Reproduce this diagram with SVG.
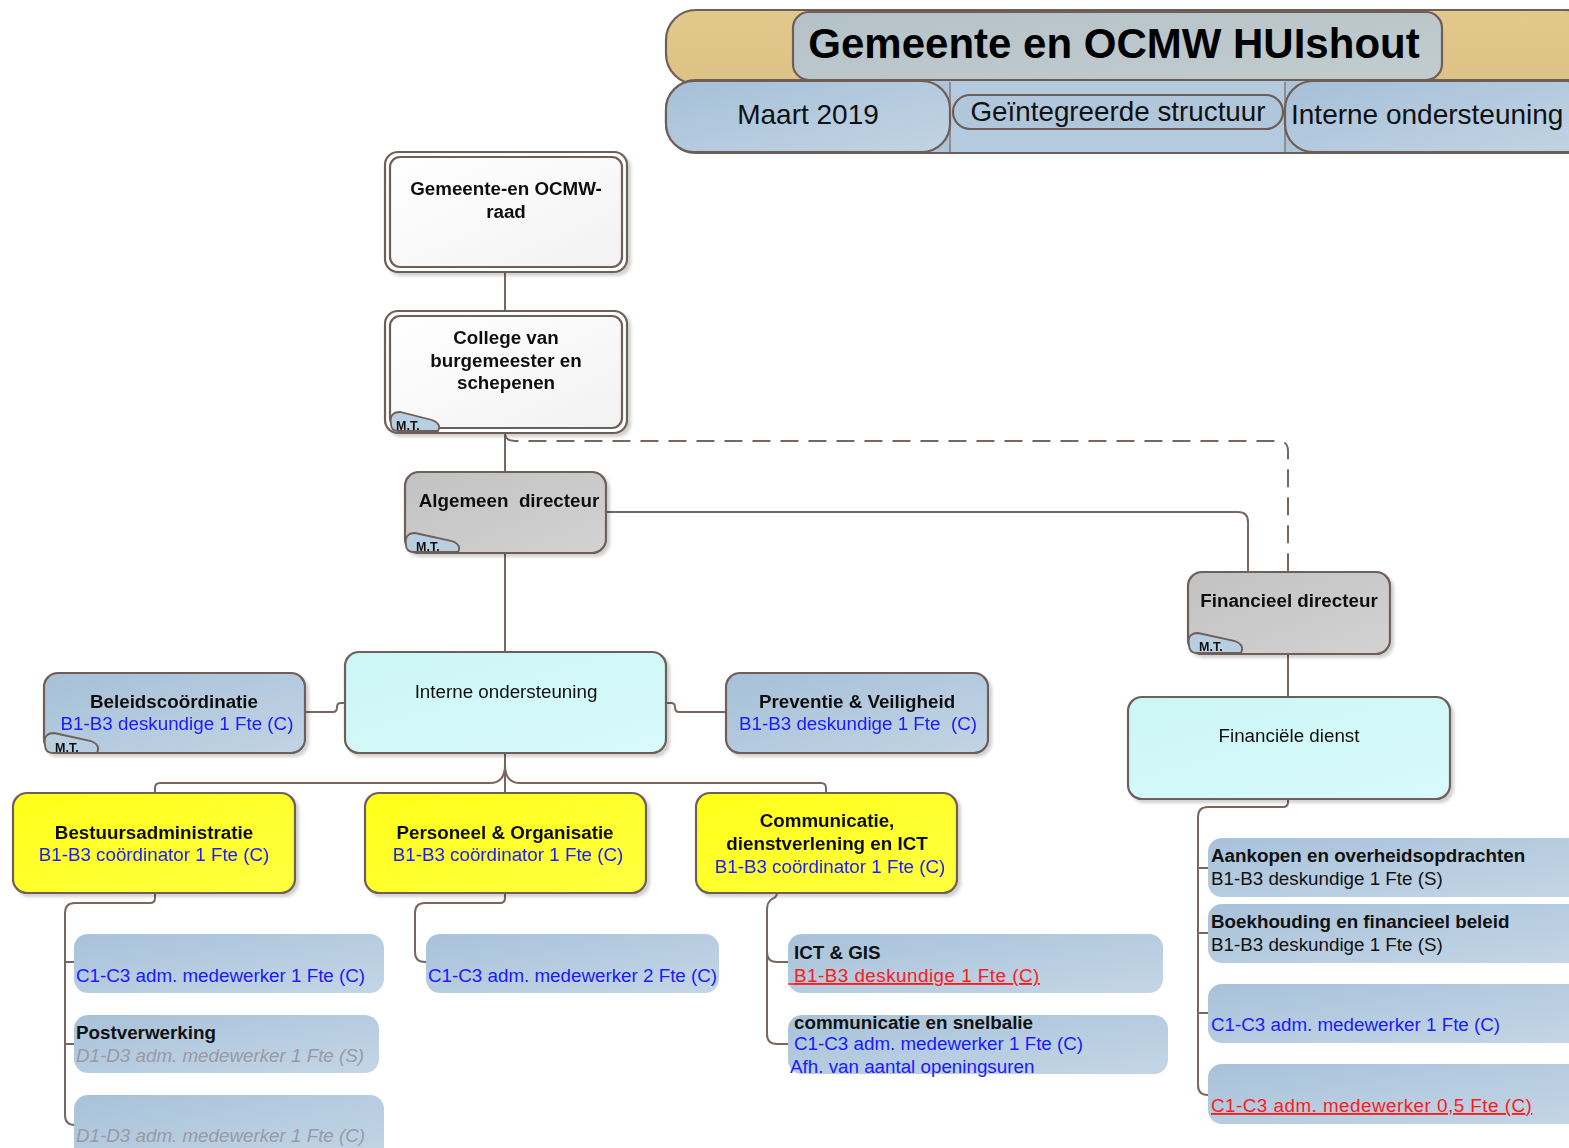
<svg xmlns="http://www.w3.org/2000/svg" width="1569" height="1148" viewBox="0 0 1569 1148">
<defs>
<filter id="sh" x="-10%" y="-10%" width="125%" height="130%">
<feDropShadow dx="3" dy="3" stdDeviation="1.5" flood-color="#000" flood-opacity="0.18"/>
</filter>
<linearGradient id="gBlue" x1="0" y1="0" x2="1" y2="1">
<stop offset="0" stop-color="#a6c0d8"/><stop offset="1" stop-color="#c2d4e4"/>
</linearGradient>
<linearGradient id="gSub" x1="0" y1="0" x2="1" y2="1">
<stop offset="0" stop-color="#a8c2da"/><stop offset="1" stop-color="#c4d6e6"/>
</linearGradient>
<linearGradient id="gCyan" x1="0" y1="0" x2="1" y2="1">
<stop offset="0" stop-color="#ccf6f6"/><stop offset="1" stop-color="#d8fafa"/>
</linearGradient>
<linearGradient id="gGray" x1="0" y1="0" x2="1" y2="1">
<stop offset="0" stop-color="#c2c2c2"/><stop offset="1" stop-color="#d2d2d2"/>
</linearGradient>
<linearGradient id="gYel" x1="0" y1="0" x2="1" y2="1">
<stop offset="0" stop-color="#ffff1a"/><stop offset="1" stop-color="#ffff40"/>
</linearGradient>
<linearGradient id="gWhite" x1="0" y1="0" x2="1" y2="1">
<stop offset="0" stop-color="#ffffff"/><stop offset="1" stop-color="#f2f2f2"/>
</linearGradient>
<linearGradient id="gTitle" x1="0" y1="0" x2="1" y2="1">
<stop offset="0" stop-color="#b4c2c8"/><stop offset="1" stop-color="#c2ccce"/>
</linearGradient>
<linearGradient id="gTan" x1="0" y1="0" x2="0" y2="1">
<stop offset="0" stop-color="#e2c88a"/><stop offset="1" stop-color="#dcc284"/>
</linearGradient>
</defs>
<style>
.box{stroke:#6e5e58;stroke-width:2.2}
.sub{fill:url(#gSub)}
.con{fill:none;stroke:#7a6660;stroke-width:2}
.dash{fill:none;stroke:#7a6660;stroke-width:2;stroke-dasharray:18 10}
text{font-family:"Liberation Sans",Arial,sans-serif;font-size:18.8px}
.b{font-weight:bold;fill:#111}
.r{fill:#111}
.bl{fill:#1a1aff}
.rd{fill:#ff1a1a;text-decoration:underline;letter-spacing:0.5px}
.gr{fill:#9a9aa4;font-style:italic}
.c{text-anchor:middle}
.mt{fill:#b8cfe2;stroke:#6e5e58;stroke-width:1.8}
.mtt{font-size:12.5px;font-weight:bold;fill:#111}
</style>

<g id="header">
<rect x="666" y="10" width="930" height="74" rx="30" fill="url(#gTan)" class="box"/>
<rect x="666" y="80" width="930" height="73" rx="30" fill="#adc3d8" class="box"/>
<rect x="950" y="81" width="335" height="71" fill="#b4cade"/>
<line x1="950" y1="82" x2="950" y2="152" stroke="#8a7a74" stroke-width="1.5"/>
<line x1="1285" y1="82" x2="1285" y2="152" stroke="#8a7a74" stroke-width="1.5"/>
<rect x="666" y="81" width="284" height="71" rx="28" fill="url(#gBlue)" class="box"/>
<rect x="1285" y="81" width="310" height="71" rx="28" fill="url(#gBlue)" class="box"/>
<rect x="793" y="12" width="649" height="68" rx="16" fill="url(#gTitle)" class="box"/>
<rect x="953" y="95" width="330" height="34" rx="17" fill="#b0c6da" class="box"/>
<text x="1114" y="58" class="c" style="font-size:42px;font-weight:bold;fill:#000">Gemeente en OCMW HUIshout</text>
<text x="808" y="124" class="c" style="font-size:28px;fill:#111">Maart 2019</text>
<text x="1118" y="121" class="c" style="font-size:27.8px;fill:#111">Geïntegreerde structuur</text>
<text x="1291" y="124" style="font-size:28px;fill:#111">Interne ondersteuning</text>
</g>

<g id="connectors">
<path class="con" d="M505,272 V311"/>
<path class="con" d="M505,433 V472"/>
<path class="dash" d="M505,433 Q505,441 515,441 H1278 Q1288,441 1288,451 V572"/>
<path class="con" d="M606,512 H1238 Q1248,512 1248,522 V572"/>
<path class="con" d="M505,553 V652"/>
<path class="con" d="M1288,654 V697"/>
<path class="con" d="M306,712 H333 Q337,712 337,707 Q337,703 341,703 H345"/>
<path class="con" d="M666,703 H671 Q675,703 675,707 Q675,712 679,712 H726"/>
<path class="con" d="M505,753 V793"/>
<path class="con" d="M505,765 Q505,783 490,783 H160 Q155,783 155,788 V793"/>
<path class="con" d="M505,765 Q505,783 520,783 H821 Q826,783 826,788 V793"/>
<path class="con" d="M155,893 V898 Q155,903 150,903 H75 Q65,903 65,913 V1115 Q65,1125 75,1125 H80"/>
<path class="con" d="M65,962 H74 M65,1044 H74"/>
<path class="con" d="M505,893 V898 Q505,903 500,903 H425 Q415,903 415,913 V952 Q415,962 425,962 H426"/>
<path class="con" d="M777,893 Q777,897 772,899 Q767,902 767,910 V1034 Q767,1044 777,1044 H788"/>
<path class="con" d="M767,952 Q767,962 777,962 H788"/>
<path class="con" d="M1288,799 V802 Q1288,807 1283,807 H1208 Q1198,807 1198,817 V1085 Q1198,1095 1208,1095 H1210"/>
<path class="con" d="M1198,868 H1208 M1198,933 H1208 M1198,1013 H1208"/>
</g>

<g id="n-raad" filter="url(#sh)">
<rect x="385" y="152" width="242" height="120" rx="13" fill="#fff" class="box"/>
<rect x="390" y="157" width="232" height="110" rx="10" fill="url(#gWhite)" class="box"/>
<text x="506" y="195" class="b c">Gemeente-en OCMW-</text>
<text x="506" y="218" class="b c">raad</text>
</g>

<g id="n-college" filter="url(#sh)">
<rect x="385" y="311" width="242" height="122" rx="13" fill="#fff" class="box"/>
<rect x="390" y="316" width="232" height="112" rx="10" fill="url(#gWhite)" class="box"/>
<text x="506" y="344" class="b c">College van</text>
<text x="506" y="367" class="b c">burgemeester en</text>
<text x="506" y="389" class="b c">schepenen</text>
<path class="mt" d="M391,424 Q389,412 400,412 L432,420 Q442,424 438,431 L398,431 Q391,431 391,424 Z"/>
<text x="396" y="430" class="mtt">M.T.</text>
</g>

<g id="n-algemeen" filter="url(#sh)">
<rect x="405" y="472" width="201" height="81" rx="14" fill="url(#gGray)" class="box"/>
<path class="mt" d="M406,545 Q404,533 415,533 L452,541 Q462,545 458,552 L414,552 Q406,552 406,545 Z"/>
<text x="416" y="551" class="mtt">M.T.</text>
<text x="509" y="507" class="b c" xml:space="preserve">Algemeen  directeur</text>
</g>

<g id="n-financieel-dir" filter="url(#sh)">
<rect x="1188" y="572" width="202" height="82" rx="14" fill="url(#gGray)" class="box"/>
<path class="mt" d="M1189,645 Q1187,633 1198,633 L1235,641 Q1245,645 1241,653 L1197,653 Q1189,653 1189,645 Z"/>
<text x="1199" y="651" class="mtt">M.T.</text>
<text x="1289" y="607" class="b c">Financieel directeur</text>
</g>

<g id="n-fin-dienst" filter="url(#sh)">
<rect x="1128" y="697" width="322" height="102" rx="14" fill="url(#gCyan)" class="box"/>
<text x="1289" y="742" class="r c">Financiële dienst</text>
</g>

<g id="n-interne" filter="url(#sh)">
<rect x="345" y="652" width="321" height="101" rx="14" fill="url(#gCyan)" class="box"/>
<text x="506" y="698" class="r c">Interne ondersteuning</text>
</g>

<g id="n-beleid" filter="url(#sh)">
<rect x="44" y="673" width="261" height="80" rx="14" fill="url(#gBlue)" class="box"/>
<text x="174" y="708" class="b c">Beleidscoördinatie</text>
<text x="177" y="730" class="bl c">B1-B3 deskundige 1 Fte (C)</text>
<path class="mt" d="M45,745 Q43,733 54,733 L91,741 Q101,745 97,753 L53,753 Q45,753 45,745 Z"/>
<text x="55" y="752" class="mtt">M.T.</text>
</g>

<g id="n-preventie" filter="url(#sh)">
<rect x="726" y="673" width="262" height="80" rx="14" fill="url(#gBlue)" class="box"/>
<text x="857" y="708" class="b c">Preventie &amp; Veiligheid</text>
<text x="858" y="730" class="bl c" xml:space="preserve">B1-B3 deskundige 1 Fte  (C)</text>
</g>

<g id="n-bestuur" filter="url(#sh)">
<rect x="13" y="793" width="282" height="100" rx="14" fill="url(#gYel)" class="box"/>
<text x="154" y="839" class="b c">Bestuursadministratie</text>
<text x="154" y="861" class="bl c">B1-B3 coördinator 1 Fte (C)</text>
</g>

<g id="n-personeel" filter="url(#sh)">
<rect x="365" y="793" width="281" height="100" rx="14" fill="url(#gYel)" class="box"/>
<text x="505" y="839" class="b c">Personeel &amp; Organisatie</text>
<text x="508" y="861" class="bl c">B1-B3 coördinator 1 Fte (C)</text>
</g>

<g id="n-communicatie" filter="url(#sh)">
<rect x="696" y="793" width="261" height="100" rx="14" fill="url(#gYel)" class="box"/>
<text x="827" y="827" class="b c">Communicatie,</text>
<text x="827" y="850" class="b c">dienstverlening en ICT</text>
<text x="830" y="873" class="bl c">B1-B3 coördinator 1 Fte (C)</text>
</g>

<g id="n-bestuur-1">
<rect x="74" y="934" width="310" height="59" rx="14" class="sub"/>
<text x="76" y="982" class="bl">C1-C3 adm. medewerker 1 Fte (C)</text>
</g>
<g id="n-post">
<rect x="74" y="1015" width="305" height="58" rx="14" class="sub"/>
<text x="76" y="1039" class="b">Postverwerking</text>
<text x="76" y="1062" class="gr">D1-D3 adm. medewerker 1 Fte (S)</text>
</g>
<g id="n-bestuur-3">
<rect x="74" y="1095" width="310" height="70" rx="14" class="sub"/>
<text x="76" y="1142" class="gr">D1-D3 adm. medewerker 1 Fte (C)</text>
</g>

<g id="n-personeel-1">
<rect x="426" y="934" width="293" height="59" rx="14" class="sub"/>
<text x="428" y="982" class="bl">C1-C3 adm. medewerker 2 Fte (C)</text>
</g>

<g id="n-ict">
<rect x="788" y="934" width="375" height="59" rx="14" class="sub"/>
<text x="794" y="959" class="b">ICT &amp; GIS</text>
<text x="794" y="982" class="rd">B1-B3 deskundige 1 Fte (C)</text>
<line x1="788" y1="984" x2="796" y2="984" stroke="#ff1a1a" stroke-width="1.5"/>
</g>
<g id="n-snelbalie">
<rect x="788" y="1015" width="380" height="59" rx="14" class="sub"/>
<text x="794" y="1029" class="b">communicatie en snelbalie</text>
<text x="794" y="1050" class="bl">C1-C3 adm. medewerker 1 Fte (C)</text>
<text x="790" y="1073" class="bl">Afh. van aantal openingsuren</text>
</g>

<g id="n-aankopen">
<rect x="1208" y="838" width="380" height="59" rx="14" class="sub"/>
<text x="1211" y="862" class="b">Aankopen en overheidsopdrachten</text>
<text x="1211" y="885" class="r">B1-B3 deskundige 1 Fte (S)</text>
</g>
<g id="n-boekhouding">
<rect x="1208" y="904" width="380" height="59" rx="14" class="sub"/>
<text x="1211" y="928" class="b">Boekhouding en financieel beleid</text>
<text x="1211" y="951" class="r">B1-B3 deskundige 1 Fte (S)</text>
</g>
<g id="n-fin-c1">
<rect x="1208" y="984" width="380" height="59" rx="14" class="sub"/>
<text x="1211" y="1031" class="bl">C1-C3 adm. medewerker 1 Fte (C)</text>
</g>
<g id="n-fin-c2">
<rect x="1208" y="1064" width="380" height="60" rx="14" class="sub"/>
<text x="1211" y="1112" class="rd">C1-C3 adm. medewerker 0,5 Fte (C)</text>
</g>
</svg>
